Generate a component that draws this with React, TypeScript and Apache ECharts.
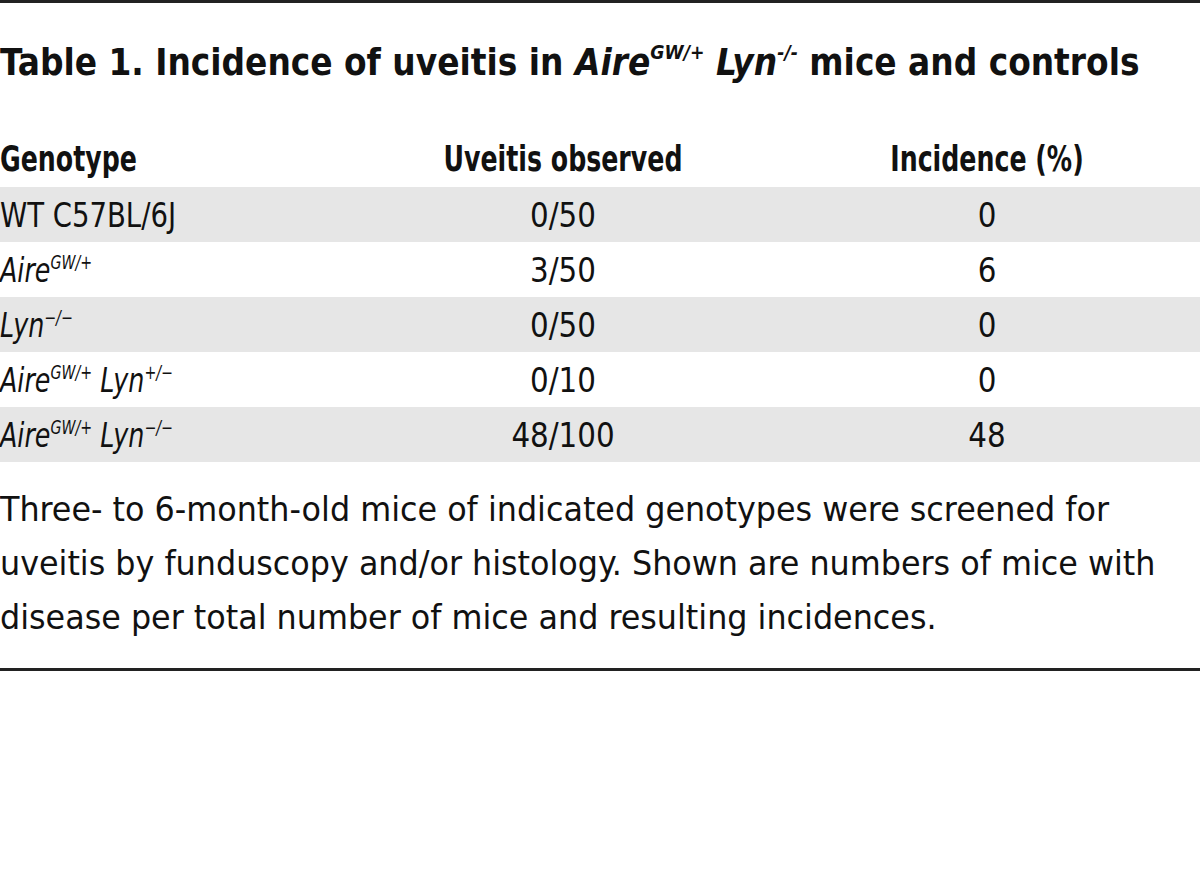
import React, { useEffect, useRef } from "react";
import * as echarts from "echarts";

const titleParts = [
  "{b|Table 1. Incidence of uveitis in }",
  "{bi|Aire}{bs|GW/+}{b| }{bi|Lyn}{bs|-/-}",
  "{b| mice and controls}",
];
const headers = ["Genotype", "Uveitis observed", "Incidence (%)"];
const genotypes = [
  "{n|WT C57BL/6J}",
  "{i|Aire}{s|GW/+}",
  "{i|Lyn}{s|−/−}",
  "{i|Aire}{s|GW/+}{n| }{i|Lyn}{s|+/−}",
  "{i|Aire}{s|GW/+}{n| }{i|Lyn}{s|−/−}",
];
const observed = ["0/50", "3/50", "0/50", "0/10", "48/100"];
const incidence = ["0", "6", "0", "0", "48"];
const footnoteLines = [
  "Three- to 6-month-old mice of indicated genotypes were screened for",
  "uveitis by funduscopy and/or histology. Shown are numbers of mice with",
  "disease per total number of mice and resulting incidences.",
];

const FONT = "'Liberation Sans Narrow', 'DejaVu Sans Condensed', 'Roboto Condensed', 'Liberation Sans', sans-serif";
const INK = "#111111";

export default function App() {
  const ref = useRef<HTMLDivElement>(null);
  useEffect(() => {
    if (!ref.current) return;
    const chart = echarts.init(ref.current, undefined, { renderer: "svg" });
    const elements: any[] = [];
    // top and bottom rules
    elements.push({ type: "rect", shape: { x: 0, y: 0, width: 1200, height: 3 }, style: { fill: "#222" } });
    elements.push({ type: "rect", shape: { x: 0, y: 668, width: 1200, height: 3 }, style: { fill: "#222" } });
    // title
    elements.push({
      type: "text",
      x: 0,
      y: 62,
      scaleX: 0.962,
      style: {
        text: titleParts.join(""),
        fill: INK,
        verticalAlign: "middle",
        rich: {
          b: { fontFamily: FONT, fontSize: 38, fontWeight: "bold", fill: INK, lineHeight: 40 },
          bi: { fontFamily: FONT, fontSize: 38, fontWeight: "bold", fontStyle: "italic", fill: INK, lineHeight: 40 },
          bs: { fontFamily: FONT, fontSize: 20, fontWeight: "bold", fontStyle: "italic", fill: INK, verticalAlign: "top", lineHeight: 40 },
        },
      },
    });
    const rowTop = 187;
    const rowH = 55;
    const colX = [0, 563, 987];
    // headers
    headers.forEach((h, i) => {
      elements.push({
        type: "text",
        x: colX[i],
        y: 159,
        scaleX: 0.78,
        style: {
          text: h,
          fontFamily: FONT,
          fontSize: 36,
          fontWeight: "bold",
          fill: INK,
          align: i === 0 ? "left" : "center",
          verticalAlign: "middle",
        },
      });
    });
    genotypes.forEach((g, r) => {
      const y = rowTop + r * rowH;
      if (r % 2 === 0) {
        elements.push({ type: "rect", shape: { x: 0, y, width: 1200, height: rowH }, style: { fill: "#e6e6e6" } });
      }
      const cy = y + rowH / 2 + 1;
      const isItalic = g.indexOf("{i|") >= 0;
      elements.push({
        type: "text",
        x: 0,
        y: cy,
        scaleX: isItalic ? 0.83 : 0.9,
        style: {
          text: g,
          fill: INK,
          verticalAlign: "middle",
          rich: {
            n: { fontFamily: FONT, fontSize: 34, fill: INK, lineHeight: 36 },
            i: { fontFamily: FONT, fontSize: 34, fontStyle: "italic", fill: INK, lineHeight: 36 },
            s: { fontFamily: FONT, fontSize: 19, fontStyle: "italic", fill: INK, verticalAlign: "top", lineHeight: 36 },
          },
        },
      });
      elements.push({
        type: "text", x: colX[1], y: cy, scaleX: 0.96,
        style: { text: observed[r], fontFamily: FONT, fontSize: 34, fill: INK, align: "center", verticalAlign: "middle" },
      });
      elements.push({
        type: "text", x: colX[2], y: cy, scaleX: 0.96,
        style: { text: incidence[r], fontFamily: FONT, fontSize: 34, fill: INK, align: "center", verticalAlign: "middle" },
      });
    });
    footnoteLines.forEach((t, i) => {
      elements.push({
        type: "text",
        x: 0,
        y: 509 + i * 54,
        scaleX: 1.04,
        style: { text: t, fontFamily: FONT, fontSize: 34, fill: INK, verticalAlign: "middle" },
      });
    });
    chart.setOption({ animation: false, graphic: { elements } });
    return () => chart.dispose();
  }, []);
  return (
    <div
      ref={ref}
      style={{ position: "fixed", left: 0, top: 0, width: 1200, height: 877, background: "#fff" }}
    />
  );
}
